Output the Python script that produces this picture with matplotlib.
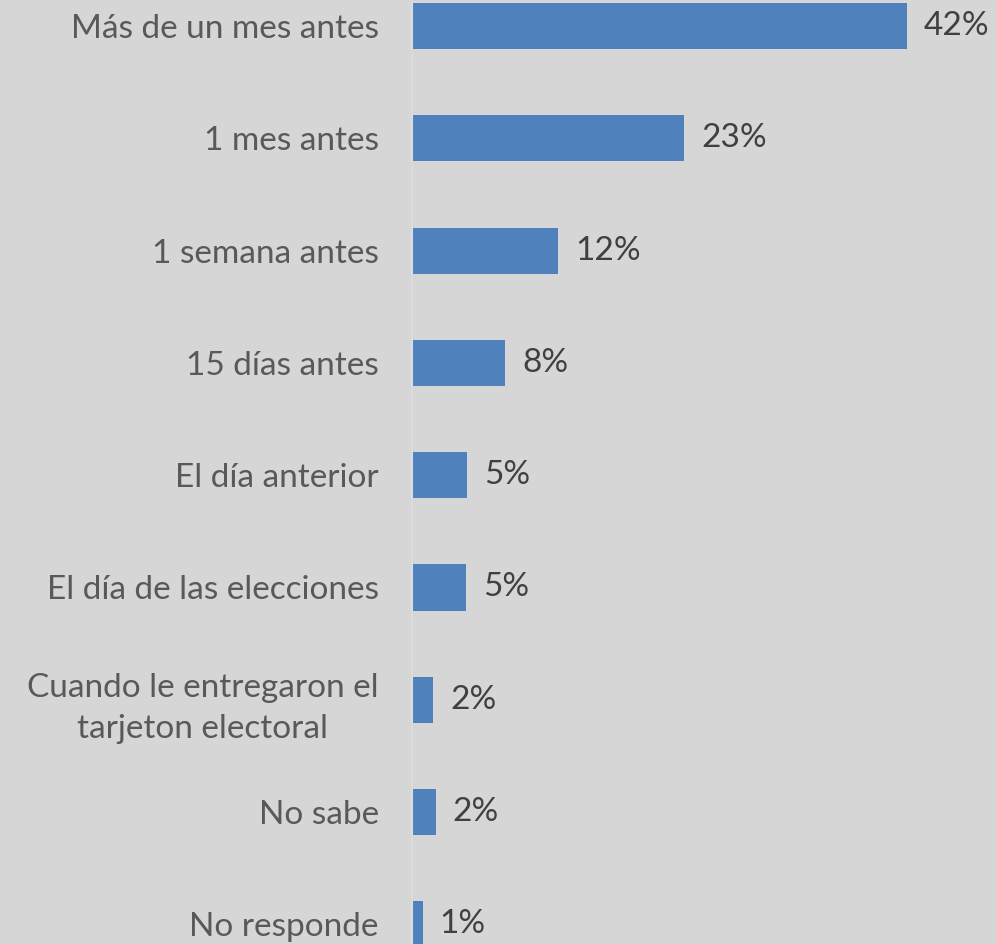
import matplotlib.pyplot as plt

categorias = ['Más de un mes antes', '1 mes antes', '1 semana antes', '15 días antes',
              'El día anterior', 'El día de las elecciones',
              'Cuando le entregaron el\ntarjeton electoral', 'No sabe', 'No responde']
valores = [42.0, 23.1, 12.4, 7.9, 4.7, 4.6, 1.8, 2.0, 0.9]

fondo = '#d6d6d6'
azul = '#4f81bd'

plt.rcParams['font.family'] = ['Lato', 'DejaVu Sans']

fig = plt.figure(figsize=(9.96, 9.44), dpi=100, facecolor=fondo)
ax = fig.add_axes([412/996, 0, 577/996, 1])
ax.set_facecolor(fondo)

pos = list(range(len(categorias)))
ax.barh(pos, valores, height=0.41, color=azul)

for y, v in zip(pos, valores):
    ax.text(v + 1.45, y, f'{v:.0f}%', va='center', ha='left', fontsize=24, color='#404040')

ax.set_xlim(0, 49)
ax.set_ylim(944/112.3 - 26/112.3, -26/112.3)
ax.set_yticks(pos)
ax.set_yticklabels(categorias, fontsize=24, color='#595959')
for lbl in ax.get_yticklabels():
    lbl.set_multialignment('center')
    lbl.set_linespacing(1.45)
ax.tick_params(axis='y', length=0, pad=24)
ax.set_xticks([])
for s in ['top', 'right', 'bottom']:
    ax.spines[s].set_visible(False)
ax.spines['left'].set_color('#dcdcdc')
ax.spines['left'].set_linewidth(1.5)

fig.savefig('out.png', dpi=100, facecolor=fondo)
